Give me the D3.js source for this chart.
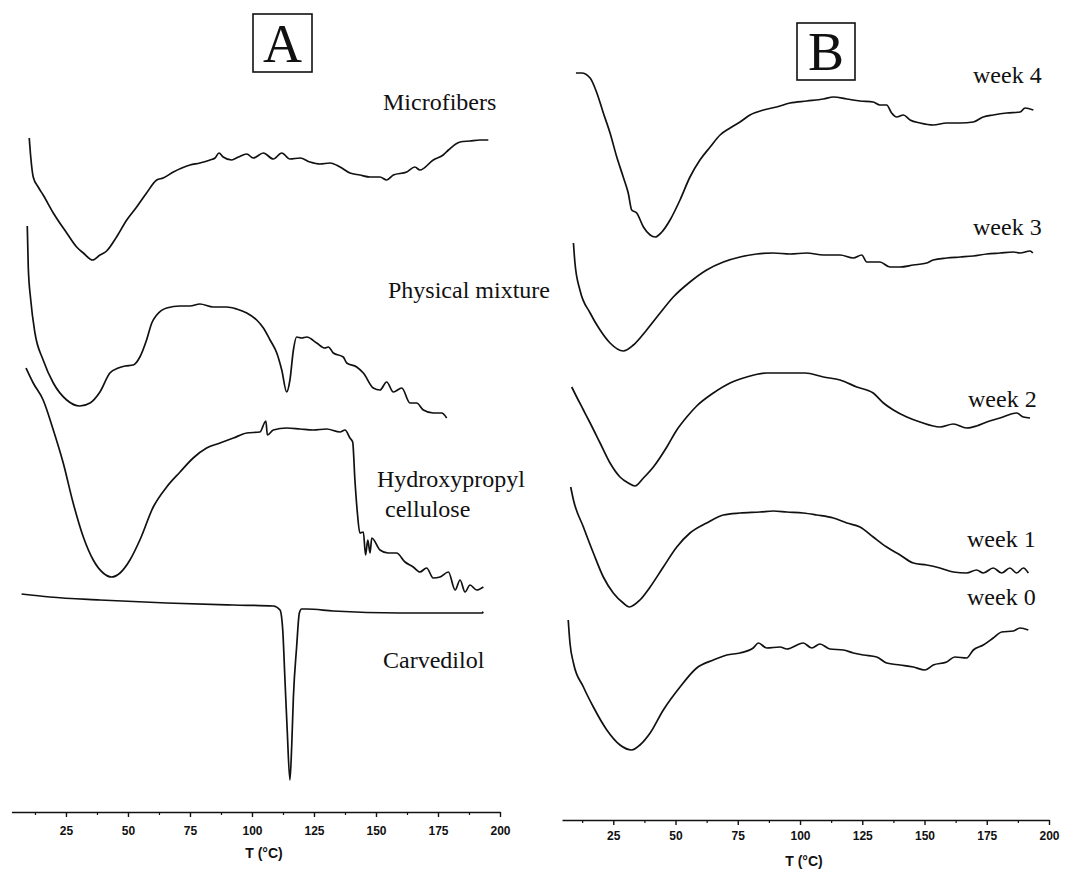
<!DOCTYPE html>
<html>
<head>
<meta charset="utf-8">
<script src="https://cdn.jsdelivr.net/npm/d3@7"></script>
<style>
  body { margin: 0; background: #fff; }
  .lbl { font-family: "Liberation Serif", "Times New Roman", serif; font-size: 24px; fill: #111; }
  .panel { font-family: "Liberation Serif", "Times New Roman", serif; fill: #111; }
</style>
</head>
<body>
<div id="chart"></div>
<script>
/* DSC thermograms, panel A (components) and panel B (storage weeks) */

// temperature ticks (same on both panels)
const majorTicks = [25, 50, 75, 100, 125, 150, 175, 200];
const minorTicks = [12.5, 37.5, 62.5, 87.5, 112.5, 137.5, 162.5, 187.5];

// ---- panel A: heat flow in arbitrary units (stacked, so offsets are baked in)
const microT  = [10.2,10.8,11.8,13.8,15.8,19.9,25.3,29.3,32.0,35.8,38.7,41.4,45.4,49.5,53.5,57.5,61.6,64.2,68.3,71.7,75,79,83.1,85.1,86.7,88.4,91.8,94.5,97.9,100.5,104.6,108.6,112,115.3,119.4,123.4,127.4,131.5,135.5,139.5,143.5,147.6,151.6,154.3,157,162.4,165.7,167.7,173.1,177.1,179.2,183.9,187.9,191.9,195.3];
const microHF = [674,655,635,625,617,599,579,565,559,552,557,561,575,592,605,619,632,634,640,644,647,649,652,654,659,655,652,655,658,654,659,653,659,653,654,650,648,649,645,639,637,635,635,632,637,640,645,642,652,657,662,670,671,672,672];

const physT  = [9.4,9.8,10.8,12.5,15.8,19.9,25.3,30.6,34.7,38.7,42.7,46.1,48.8,52.1,54.8,57.5,59.6,61.6,65.6,71,75,79,84.4,89.8,93.8,97.9,101.9,104.6,107.3,110,112,114,115.3,116.7,118,120,122.1,126.1,129.4,130.8,132.8,136.8,138.2,142.2,144.9,148.9,151.6,154.3,157,160.4,163.7,166.4,169.1,173.1,176.5,178.5];
const physHF = [586,545,512,479,452,429,412,406,409,420,439,444,446,447,455,472,489,497,504,506,506,508,505,505,503,499,492,484,472,459,442,420,432,462,475,474,475,469,464,465,459,455,449,445,439,424,422,430,420,424,409,409,402,399,399,394];

const hpcT  = [8.9,11.8,15.8,19.9,23.9,27.9,32,36,40,43.4,46.8,50.8,54.8,60.2,65.6,71,76.3,81.7,87.1,92.5,97.9,103.2,105.6,106.2,108.6,114,119.4,124.7,130.1,135.5,137.5,139.5,140.6,141.5,142.5,143.5,144.9,145.8,146.7,147.6,148.3,151.6,154.9,158.3,161.7,165,167.7,170.4,173.1,175.8,179.2,181.9,183.9,185.9,187.9,190.6,193.3];
const hpcHF = [444,429,412,382,349,309,275,252,239,235,239,252,272,305,325,340,354,364,369,374,379,380,391,377,382,384,383,382,383,380,382,374,370,332,299,279,280,257,272,259,274,262,259,259,250,245,240,244,234,235,240,222,232,220,227,222,225];

const carvT  = [7.1,18.5,38.7,65.6,92.5,108.6,111.3,112.4,113.3,114.2,115.3,116,116.7,118,119.1,120,122.1,132.8,159.7,186.6,192.6,193.3];
const carvHF = [218,215,212,209,207,206,202,182,132,82,32,65,115,165,199,203,203,201,199,199,199,200];

// ---- panel B
const wk4T  = [10,12.3,15.7,18.4,21,23.7,26.4,29,31,32.4,34.4,37.1,39.8,41.8,44.5,47.8,51.8,55.8,59.8,63.9,67.9,71.9,75.9,79.9,85.3,90.6,96,102.7,109.4,113.4,118.8,124.1,129.4,132.1,134.8,136.8,138.8,141.5,144.2,148.2,153.5,158.9,164.3,169.6,173.6,177.6,183,188.4,190.4,193.7];
const wk4HF = [747,747,742,727,707,687,663,643,627,610,607,593,585,583,588,600,620,643,660,673,685,692,698,705,710,713,717,719,721,723,721,719,718,715,715,707,703,705,700,697,695,697,697,698,703,705,707,708,712,710];

const wk3T  = [9,9.6,11.6,15.7,19.7,23.7,29,33.1,38.4,43.8,49.1,55.8,62.5,69.2,75.9,82.6,89.3,96,102.7,109.4,116.1,121.4,124.8,126.8,132.1,136.1,140.2,145.5,150.9,153.5,158.9,164.3,169.6,175,180.3,185.7,188.4,192.4,193.5];
const wk3HF = [577,557,530,507,490,477,469,475,490,507,523,538,550,558,563,566,567,566,567,565,565,562,565,558,558,553,553,555,557,560,562,563,564,566,567,568,567,569,567];

const wk2T  = [8.3,10.3,13,15.7,19.7,23.7,27.7,31,33.7,37.1,41.1,46.5,50.5,54.5,58.5,65.2,71.9,78.6,86.6,94.7,102,109.4,116.1,122.8,129.4,133.5,137.5,142.9,148.2,156.2,161.6,166.9,170.9,175,180.3,187,189.7,192.4];
const wk2HF = [433,423,410,397,377,357,343,337,334,342,353,373,390,403,414,427,437,443,447,447,447,443,440,433,427,417,410,403,398,393,396,392,394,398,402,407,403,402];

const wk1T  = [7.9,9,13,17,21,25,29,31.4,35.7,39.8,45.1,50.5,55.8,62.5,69.2,75.9,83.9,89.3,94.7,101.3,106.7,113.4,118.8,124.1,129.4,134.8,140.2,145.5,150.9,156.2,161.6,166.9,170.9,173.6,177.6,181,184.3,187,189.7,191.7];
const wk1HF = [333,320,293,267,243,227,217,213,220,233,253,273,287,297,305,307,308,309,308,307,305,302,297,293,283,273,265,257,255,252,248,247,250,247,252,247,252,247,252,247];

const wk0T  = [6.9,7.6,9,13,17,22.4,27.7,32.4,35.7,39.8,45.1,51.8,58.5,65.2,70.6,75.9,81.2,83.3,86.6,92,94.7,101.3,104.7,108,112,117.4,121.4,125.5,130.8,134.8,140.2,145.5,150.2,153.5,158.9,162.2,166.9,169.6,173.6,177.6,181,185.7,188.4,191.7];
const wk0HF = [200,177,157,133,113,90,75,70,75,87,110,133,152,160,165,167,172,177,172,173,171,177,172,176,171,170,167,165,163,157,155,153,150,155,158,163,162,170,175,182,188,189,192,190];

const curvesA = [
    { label: ["Microfibers"], lx: 383, ly: 110, t: microT, hf: microHF },
    { label: ["Physical mixture"], lx: 388, ly: 298, t: physT, hf: physHF },
    { label: ["Hydroxypropyl", "cellulose"], lx: 377, ly: 487, t: hpcT, hf: hpcHF },
    { label: ["Carvedilol"], lx: 383, ly: 668, t: carvT, hf: carvHF }
];
const curvesB = [
    { label: ["week 4"], lx: 973, ly: 83, t: wk4T, hf: wk4HF },
    { label: ["week 3"], lx: 973, ly: 235, t: wk3T, hf: wk3HF },
    { label: ["week 2"], lx: 968, ly: 407, t: wk2T, hf: wk2HF },
    { label: ["week 1"], lx: 967, ly: 547, t: wk1T, hf: wk1HF },
    { label: ["week 0"], lx: 967, ly: 605, t: wk0T, hf: wk0HF }
];

const width = 1070, height = 878;

let svg = d3.select("#chart")
            .append("svg")
            .attr("width", width)
            .attr("height", height);

function drawPanel(curves, xScale, yScale, axisY, padding, titleX) {

    const line = d3.line()
        .curve(d3.curveMonotoneX) // smoother trace between the read points
        .x(d => xScale(d[0]))
        .y(d => yScale(d[1]));

    for (let c of curves) {
        svg.append("path")
            .datum(c.t.map((t, i) => [t, c.hf[i]]))
            .attr("fill", "none")
            .attr("stroke", "#111")
            .attr("stroke-width", 1.7)
            .attr("stroke-linejoin", "round")
            .attr("d", line);

        // label can be two lines (Hydroxypropyl / cellulose)
        c.label.forEach((s, i) => {
            svg.append("text")
                .attr("class", "lbl")
                .attr("x", c.lx + (i > 0 ? 8 : 0))
                .attr("y", c.ly + i * 30)
                .text(s);
        });
    }

    // major ticks with labels
    let gx = svg.append("g")
        .attr("transform", `translate(0,${axisY})`)
        .call(d3.axisBottom(xScale).tickValues(majorTicks).tickSize(5).tickPadding(padding).tickSizeOuter(0));
    gx.select(".domain").attr("stroke", "#111").attr("stroke-width", 1.6);
    gx.selectAll(".tick line").attr("stroke", "#111").attr("stroke-width", 1.4);
    gx.selectAll(".tick text")
        .attr("fill", "#111")
        .style("font-family", "'Liberation Sans', Arial, sans-serif")
        .style("font-size", "12px")
        .style("font-weight", "bold");

    // minor ticks
    let gm = svg.append("g")
        .attr("transform", `translate(0,${axisY})`)
        .call(d3.axisBottom(xScale).tickValues(minorTicks).tickSize(3).tickFormat(""));
    gm.select(".domain").remove();
    gm.selectAll(".tick line").attr("stroke", "#111").attr("stroke-width", 1.2);

    svg.append("text")
        .attr("x", titleX)
        .attr("y", axisY + 46)
        .attr("text-anchor", "middle")
        .style("font-family", "'Liberation Sans', Arial, sans-serif")
        .style("font-size", "14px")
        .style("font-weight", "bold")
        .attr("fill", "#111")
        .text("T (°C)");
}

// panel A scales
const xA = d3.scaleLinear().domain([3, 200]).range([11.4, 500]);
const yA = d3.scaleLinear().domain([0, 800]).range([812, 12]);
// panel B scales
const xB = d3.scaleLinear().domain([4.4, 200]).range([562, 1049]);
const yB = d3.scaleLinear().domain([0, 800]).range([820, 20]);

drawPanel(curvesA, xA, yA, 812, 9, 264);
drawPanel(curvesB, xB, yB, 820, 6, 804);

// boxed panel letters
const panels = [{ id: "A", x: 253, y: 14, w: 59, h: 58 }, { id: "B", x: 797, y: 23, w: 58, h: 57 }];
for (let p of panels) {
    svg.append("rect")
        .attr("x", p.x).attr("y", p.y)
        .attr("width", p.w).attr("height", p.h)
        .attr("fill", "none")
        .attr("stroke", "#111")
        .attr("stroke-width", 1.6);
    svg.append("text")
        .attr("class", "panel")
        .attr("x", p.x + p.w / 2)
        .attr("y", p.y + p.h - 10)
        .attr("text-anchor", "middle")
        .style("font-size", "54px")
        .text(p.id);
}
</script>
</body>
</html>
